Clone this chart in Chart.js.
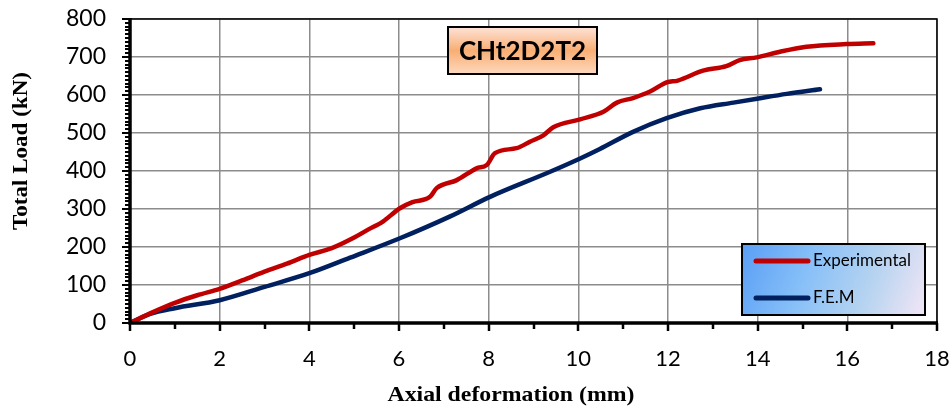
<!DOCTYPE html>
<html><head><meta charset="utf-8">
<script src="https://cdn.jsdelivr.net/npm/chart.js@4.4.1/dist/chart.umd.min.js"></script>
<style>html,body{margin:0;padding:0;background:#fff}#wrap{width:952px;height:408px;position:relative}</style>
</head><body><div id="wrap"><canvas id="c" width="952" height="408"></canvas></div>
<script>
const chartTitle = 'CHt2D2T2';
const xAxisTitle = 'Axial deformation (mm)';
const yAxisTitle = 'Total Load (kN)';
const seriesNames = ['Experimental', 'F.E.M'];
const seriesColors = ['#c00000', '#002060'];

const expX = [0, 0.5, 1, 1.5, 2, 2.5, 3, 3.5, 4, 4.5, 5, 5.3, 5.64, 6.02, 6.3, 6.69, 6.84, 7.29, 7.73, 7.96, 8.14, 8.62, 8.92, 9.22, 9.44, 10.04, 10.56, 10.86, 11.22, 11.6, 11.97, 12.22, 12.78, 13.3, 13.6, 13.98, 14.5, 15.09, 15.98, 16.58];
const expY = [0, 28, 53, 73, 90, 112, 135, 156, 179, 197, 225, 245, 267, 302, 318, 332, 355, 376, 407, 416, 447, 460, 477, 494, 515, 536, 556, 580, 592, 609, 633, 638, 664, 676, 692, 699, 714, 727, 734, 736];

const femX = [0, 0.45, 1, 2, 3, 4, 4.91, 6.02, 7.13, 8.03, 9.37, 10.04, 10.48, 11.22, 11.97, 12.72, 13.46, 14.02, 14.65, 15.39];
const femY = [0, 24, 39, 60, 95, 131, 172, 223, 280, 332, 398, 433, 458, 503, 539, 565, 580, 591, 603, 615];

const xTicks = [0, 2, 4, 6, 8, 10, 12, 14, 16, 18];
const yTicks = [0, 100, 200, 300, 400, 500, 600, 700, 800];

const toPts = (xs, ys) => xs.map((v, i) => ({x: v, y: ys[i]}));

function stretchText(ctx, text, cx, cy, targetW) {
  const w = ctx.measureText(text).width;
  ctx.save();
  ctx.translate(cx, cy);
  ctx.scale(targetW / w, 1);
  ctx.fillText(text, 0, 0);
  ctx.restore();
}

const decor = {
  id: 'decor',
  afterDatasetsDraw(chart) {
    const {ctx, chartArea: a, scales: {x, y}} = chart;
    ctx.save();
    ctx.strokeStyle = '#000';
    ctx.lineWidth = 1.5;
    ctx.beginPath();
    ctx.moveTo(a.left, a.top); ctx.lineTo(a.right, a.top); ctx.lineTo(a.right, a.bottom);
    ctx.stroke();
    ctx.lineWidth = 3.5;
    ctx.beginPath();
    ctx.moveTo(a.left, a.top - 1); ctx.lineTo(a.left, a.bottom); ctx.lineTo(a.right + 1, a.bottom);
    ctx.stroke();
    ctx.lineWidth = 2;
    for (let v = 0; v <= 800; v += 10) {
      const py = Math.round(y.getPixelForValue(v));
      const len = v % 100 === 0 ? 8 : 5;
      ctx.beginPath(); ctx.moveTo(a.left, py); ctx.lineTo(a.left - len, py); ctx.stroke();
    }
    ctx.lineWidth = 2.5;
    for (let v = 0; v <= 18; v += 1) {
      const px = Math.round(x.getPixelForValue(v));
      const len = v % 2 === 0 ? 8 : 6;
      ctx.beginPath(); ctx.moveTo(px, a.bottom); ctx.lineTo(px, a.bottom + len); ctx.stroke();
    }
    // title box
    const tb = {l: 448, t: 27, r: 597, b: 74};
    let g = ctx.createLinearGradient(0, tb.t, 0, tb.b);
    g.addColorStop(0, '#fde3d8');
    g.addColorStop(0.5, '#f9ae74');
    g.addColorStop(1, '#fdd9bd');
    ctx.fillStyle = g;
    ctx.fillRect(tb.l, tb.t, tb.r - tb.l, tb.b - tb.t);
    ctx.lineWidth = 2;
    ctx.strokeStyle = '#000';
    ctx.strokeRect(tb.l, tb.t, tb.r - tb.l, tb.b - tb.t);
    ctx.fillStyle = '#000';
    ctx.font = 'bold 26px Lato';
    ctx.textAlign = 'center';
    ctx.textBaseline = 'middle';
    ctx.fillText(chartTitle, (tb.l + tb.r) / 2, (tb.t + tb.b) / 2 + 1);
    // legend box
    const lb = {l: 742, t: 244, r: 925, b: 315};
    g = ctx.createLinearGradient(lb.l, lb.t, lb.r, lb.b);
    g.addColorStop(0, '#5a9ff5');
    g.addColorStop(0.35, '#86bff8');
    g.addColorStop(0.7, '#b8d4f0');
    g.addColorStop(1, '#f3e6f6');
    ctx.fillStyle = g;
    ctx.fillRect(lb.l, lb.t, lb.r - lb.l, lb.b - lb.t);
    ctx.lineWidth = 2;
    ctx.strokeRect(lb.l, lb.t, lb.r - lb.l, lb.b - lb.t);
    const rows = [261, 298];
    chart.data.datasets.forEach((ds, i) => {
      ctx.strokeStyle = ds.borderColor;
      ctx.lineWidth = 5;
      ctx.lineCap = 'round';
      ctx.beginPath(); ctx.moveTo(756, rows[i]); ctx.lineTo(808, rows[i]); ctx.stroke();
      ctx.fillStyle = '#000';
      ctx.font = '17px Lato';
      ctx.textAlign = 'left';
      ctx.textBaseline = 'middle';
      ctx.fillText(ds.label, 813, rows[i]);
    });
    // axis titles
    ctx.fillStyle = '#000';
    ctx.font = 'bold 21px "Liberation Serif"';
    ctx.textAlign = 'center';
    ctx.textBaseline = 'middle';
    stretchText(ctx, xAxisTitle, 511, 396, 247);
    ctx.save();
    ctx.translate(22, 151);
    ctx.rotate(-Math.PI / 2);
    stretchText(ctx, yAxisTitle, 0, 0, 158);
    ctx.restore();
    ctx.restore();
  }
};

new Chart(document.getElementById('c'), {
  type: 'scatter',
  data: {
    datasets: [
      {label: seriesNames[0], data: toPts(expX, expY), borderColor: seriesColors[0], backgroundColor: seriesColors[0], showLine: true, pointRadius: 0, borderWidth: 4.5, cubicInterpolationMode: 'monotone', borderCapStyle: 'round', borderJoinStyle: 'round'},
      {label: seriesNames[1], data: toPts(femX, femY), borderColor: seriesColors[1], backgroundColor: seriesColors[1], showLine: true, pointRadius: 0, borderWidth: 4.5, cubicInterpolationMode: 'monotone', borderCapStyle: 'round', borderJoinStyle: 'round'}
    ]
  },
  options: {
    responsive: false,
    animation: false,
    devicePixelRatio: 1,
    layout: {padding: {top: 19, right: 15, left: 0, bottom: 0}},
    plugins: {legend: {display: false}, tooltip: {enabled: false}, title: {display: false}},
    scales: {
      x: {
        type: 'linear', min: 0, max: 18,
        afterBuildTicks: s => { s.ticks = xTicks.map(v => ({value: v})); },
        afterFit: s => { s.height = 85; s.paddingLeft = 0; s.paddingRight = 0; s.paddingTop = 0; s.paddingBottom = 0; },
        grid: {color: '#8c8c8c', lineWidth: 1.5, drawTicks: false},
        border: {display: false},
        ticks: {color: '#000', font: {family: 'Lato', size: 22}, padding: 23, maxRotation: 0, autoSkip: false}
      },
      y: {
        type: 'linear', min: 0, max: 800,
        afterBuildTicks: s => { s.ticks = yTicks.map(v => ({value: v})); },
        afterFit: s => { s.width = 130; s.paddingLeft = 0; s.paddingRight = 0; s.paddingTop = 0; s.paddingBottom = 0; },
        grid: {color: '#8c8c8c', lineWidth: 1.5, drawTicks: false},
        border: {display: false},
        ticks: {color: '#000', font: {family: 'Lato', size: 23}, padding: 24, autoSkip: false}
      }
    }
  },
  plugins: [decor]
});
</script>
</body></html>
